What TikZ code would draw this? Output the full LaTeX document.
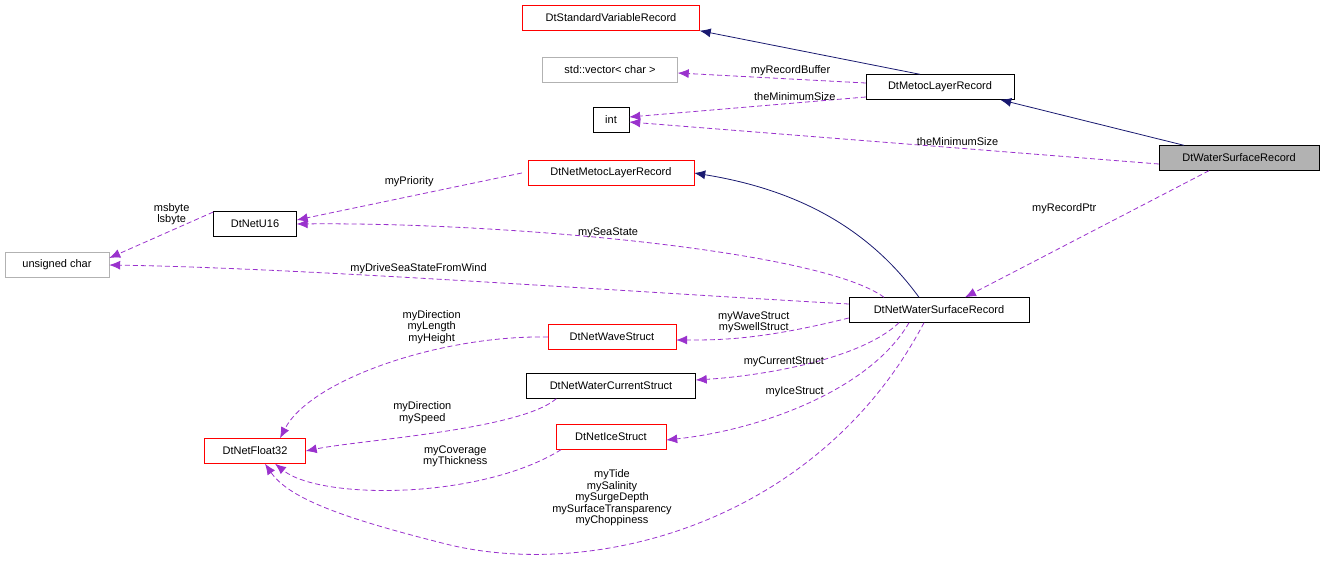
\documentclass[tikz,border=0pt]{standalone}
\usepackage{fontspec}
\setmainfont{Liberation Sans}
\usetikzlibrary{arrows.meta}
\definecolor{usecol}{RGB}{154,50,205}
\definecolor{inhcol}{RGB}{25,25,112}
\begin{document}
\begin{tikzpicture}[x=1pt,y=-1pt,font=\fontsize{11}{12}\selectfont]
    \tikzset{
    cls/.style={draw=black,fill=white,minimum height=25pt,inner sep=2pt},
    red/.style={cls,draw=red},
    ext/.style={cls,draw=gray!60},
    inh/.style={draw=inhcol,-{Latex[length=11pt,width=9pt]},line width=0.8pt},
    use/.style={draw=usecol,dash pattern=on 5pt off 3pt,-{Latex[length=11pt,width=9pt]},line width=0.8pt},
    lbl/.style={align=center,inner sep=1pt,font=\fontsize{11}{11.5}\selectfont},
    }
    \useasboundingbox (0,0) rectangle (1325,571);
    \node[red,minimum width=177pt] (std) at (611,18) {DtStandardVariableRecord};
    \node[ext,minimum width=135pt] (vec) at (610,70) {std::vector< char >};
    \node[cls,minimum width=36pt] (int) at (611,120) {int};
    \node[cls,minimum width=148pt] (mlr) at (940,87) {DtMetocLayerRecord};
    \node[cls,fill=gray!60,minimum width=160pt] (wsr) at (1239,158) {DtWaterSurfaceRecord};
    \node[red,minimum width=166pt] (nmlr) at (611,173) {DtNetMetocLayerRecord};
    \node[cls,minimum width=83pt] (u16) at (255,224) {DtNetU16};
    \node[ext,minimum width=104pt] (uch) at (57,265) {unsigned char};
    \node[cls,minimum width=180pt] (nwsr) at (939,310) {DtNetWaterSurfaceRecord};
    \node[red,minimum width=128pt] (wave) at (612,337) {DtNetWaveStruct};
    \node[cls,minimum width=169pt] (cur) at (611,386) {DtNetWaterCurrentStruct};
    \node[red,minimum width=110pt] (ice) at (611,437) {DtNetIceStruct};
    \node[red,minimum width=101pt] (f32) at (255,451) {DtNetFloat32};

    \draw[inh] ([xshift=-55pt]wsr.north) -- ([xshift=-14pt]mlr.south east);
    \draw[inh] ([xshift=-20pt]mlr.north) -- (std.south east);
    \draw[inh] ([xshift=-20pt]nwsr.north) .. controls (870,230) and (800,190) .. (nmlr.east);
    \draw[use] ([yshift=4pt]mlr.west) -- ([yshift=-3pt]vec.east) node[lbl,pos=0.4,above=2pt] {myRecordBuffer};
    \draw[use] ([yshift=-10pt]mlr.west) -- ([yshift=3pt]int.east) node[lbl,pos=0.3,above=1pt] {theMinimumSize};
    \draw[use] ([yshift=-6pt]wsr.west) -- ([yshift=-2pt]int.east) node[lbl,pos=0.38,above=1pt] {theMinimumSize};
    \draw[use] ([xshift=-30pt]wsr.south) -- ([xshift=26pt]nwsr.north) node[lbl,pos=0.3,left=38pt] {myRecordPtr};
    \draw[use] ([xshift=-6pt]nmlr.west) -- ([yshift=4pt]u16.east) node[lbl,pos=0.5,above=8pt] {myPriority};
    \draw[use] ([xshift=-55pt]nwsr.north) .. controls (820,250) and (500,222) .. (u16.east) node[lbl,pos=0.55,above=-1pt] {mySeaState};
    \draw[use] ([yshift=12pt]u16.west) -- ([yshift=7pt]uch.east) node[lbl,pos=0.4,above=4pt] {msbyte\\lsbyte};
    \draw[use] ([yshift=6pt]nwsr.west) .. controls (600,290) and (300,268) .. (uch.east) node[lbl,pos=0.55,above=3pt] {myDriveSeaStateFromWind};
    \draw[use] ([yshift=-8pt]nwsr.west) .. controls (760,340) and (720,340) .. ([yshift=-3pt]wave.east) node[lbl,pos=0.45,above=2pt] {myWaveStruct\\mySwellStruct};
    \draw[use] ([xshift=-40pt]nwsr.south) .. controls (860,360) and (760,376) .. ([yshift=6pt]cur.east) node[lbl,pos=0.6,above=1pt] {myCurrentStruct};
    \draw[use] ([xshift=-30pt]nwsr.south) .. controls (870,390) and (760,430) .. ([yshift=-3pt]ice.east) node[lbl,pos=0.55,above=10pt] {myIceStruct};
    \draw[use] (wave.west) .. controls (440,335) and (310,380) .. ([xshift=25pt]f32.north) node[lbl,pos=0.35,above=6pt] {myDirection\\myLength\\myHeight};
    \draw[use] ([xshift=30pt]cur.south west) .. controls (520,430) and (360,440) .. (f32.east) node[lbl,pos=0.55,above=10pt] {myDirection\\mySpeed};
    \draw[use] ([xshift=-50pt]ice.south) .. controls (480,500) and (320,500) .. ([xshift=20pt]f32.south) node[lbl,pos=0.35,above=16pt] {myCoverage\\myThickness};
    \draw[use] ([xshift=-15pt]nwsr.south) .. controls (820,520) and (600,580) .. (450,545) .. controls (350,520) and (290,500) .. ([xshift=10pt]f32.south);
    \node[lbl] (tide) at (612,498) {myTide\\mySalinity\\mySurgeDepth\\mySurfaceTransparency\\myChoppiness};
\end{tikzpicture}
\end{document}
